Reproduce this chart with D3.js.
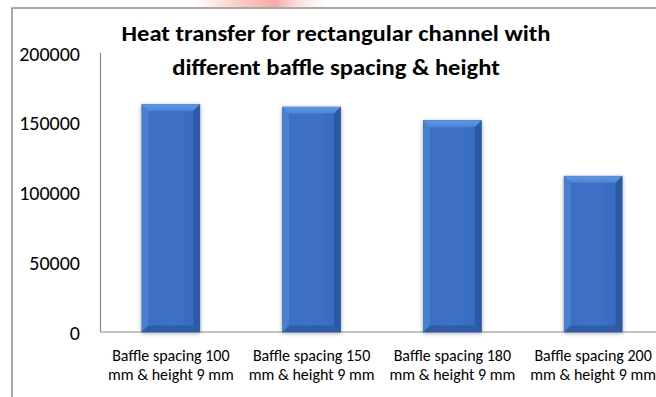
<!DOCTYPE html>
<html>
<head>
<meta charset="utf-8">
<script src="https://cdn.jsdelivr.net/npm/d3@7"></script>
<style>
  html, body { margin: 0; padding: 0; background: #fff; }
  svg { display: block; }
  text { font-family: Carlito, Lato, "Open Sans", sans-serif; fill: #000; }
</style>
</head>
<body>
<svg id="chart" width="656" height="397"></svg>
<script>
// Heat transfer for each baffle configuration
const titleLines = ["Heat transfer for rectangular channel with", "different baffle spacing & height"];
const categories = [
  ["Baffle spacing 100", "mm & height 9 mm"],
  ["Baffle spacing 150", "mm & height 9 mm"],
  ["Baffle spacing 180", "mm & height 9 mm"],
  ["Baffle spacing 200", "mm & height 9 mm"]
];
const heatTransfer = [163000, 161300, 151500, 111700];
const yTicks = [0, 50000, 100000, 150000, 200000];

const svg = d3.select("#chart");
const W = 656, H = 397;

// plot area (extends a little past the right edge of the window)
const plot = { left: 100.5, right: 663.5, top: 53, bottom: 332 };

const x = d3.scaleBand()
  .domain(d3.range(categories.length))
  .range([plot.left, plot.right])
  .paddingInner(0.588)
  .paddingOuter(0.294);

const y = d3.scaleLinear().domain([0, 200000]).range([plot.bottom, plot.top]);

const defs = svg.append("defs");

// soft shadow behind the bars
const shadow = defs.append("filter").attr("id", "barShadow")
  .attr("x", "-30%").attr("y", "-10%").attr("width", "160%").attr("height", "125%");
shadow.append("feGaussianBlur").attr("in", "SourceAlpha").attr("stdDeviation", 2.2).attr("result", "blur");
shadow.append("feOffset").attr("dx", 0).attr("dy", 1).attr("result", "off");
shadow.append("feComponentTransfer").append("feFuncA").attr("type", "linear").attr("slope", 0.35);
const merge = shadow.append("feMerge");
merge.append("feMergeNode");
merge.append("feMergeNode").attr("in", "SourceGraphic");

const faceGrad = defs.append("linearGradient").attr("id", "faceGrad")
  .attr("x1", 0).attr("x2", 1).attr("y1", 0).attr("y2", 0);
faceGrad.append("stop").attr("offset", "0%").attr("stop-color", "#3a6ec2");
faceGrad.append("stop").attr("offset", "50%").attr("stop-color", "#3d72c7");
faceGrad.append("stop").attr("offset", "100%").attr("stop-color", "#356abd");

const topGrad = defs.append("linearGradient").attr("id", "topGrad")
  .attr("x1", 0).attr("x2", 0).attr("y1", 0).attr("y2", 1);
topGrad.append("stop").attr("offset", "0%").attr("stop-color", "#5e98e6");
topGrad.append("stop").attr("offset", "100%").attr("stop-color", "#4c85d9");

// faint mark at the top edge
const markGrad = defs.append("linearGradient").attr("id", "markGrad")
  .attr("x1", 0).attr("x2", 1).attr("y1", 0).attr("y2", 0);
markGrad.append("stop").attr("offset", "0%").attr("stop-color", "#ffd6d2").attr("stop-opacity", 0);
markGrad.append("stop").attr("offset", "25%").attr("stop-color", "#ffd2cc").attr("stop-opacity", 0.9);
markGrad.append("stop").attr("offset", "60%").attr("stop-color", "#f7a39a").attr("stop-opacity", 0.9);
markGrad.append("stop").attr("offset", "100%").attr("stop-color", "#ffe8e6").attr("stop-opacity", 0);
svg.append("path")
  .attr("d", "M195,0 L318,0 L330,7 L195,7 Z")
  .attr("fill", "url(#markGrad)");

// chart frame
svg.append("path")
  .attr("d", `M12,${H} L12,8 L${W},8`)
  .attr("fill", "none").attr("stroke", "#8c8c8c").attr("stroke-width", 1.5);

// axes lines
svg.append("path")
  .attr("d", `M${plot.left},${plot.top} L${plot.left},${plot.bottom} L${W},${plot.bottom}`)
  .attr("fill", "none").attr("stroke", "#8a8a8a").attr("stroke-width", 1.2);

// y tick labels
const yAxis = d3.axisLeft(y).tickValues(yTicks).tickSize(0).tickPadding(0).tickFormat(d3.format("d"));
const yg = svg.append("g").attr("transform", "translate(80,0)").call(yAxis);
yg.select(".domain").remove();
yg.selectAll("text").attr("font-size", 20).attr("fill", "#000")
  .style("font-family", "Carlito, Lato, 'Open Sans', sans-serif")
  .attr("dy", "0.36em");

// bars with bevelled edges
const bev = 6.5;
const bars = svg.append("g").selectAll("g").data(heatTransfer).join("g")
  .attr("filter", "url(#barShadow)");

bars.append("rect")
  .attr("x", (d, i) => x(i))
  .attr("y", d => y(d))
  .attr("width", x.bandwidth())
  .attr("height", d => y(0) - y(d))
  .attr("fill", "url(#faceGrad)")
  .attr("stroke", "#2f5ea8").attr("stroke-width", 0.6);

// top bevel
bars.append("path")
  .attr("d", (d, i) => {
    const x0 = x(i), x1 = x(i) + x.bandwidth(), t = y(d);
    return `M${x0},${t} L${x1},${t} L${x1 - bev},${t + bev} L${x0 + bev},${t + bev} Z`;
  })
  .attr("fill", "url(#topGrad)");
// left bevel
bars.append("path")
  .attr("d", (d, i) => {
    const x0 = x(i), t = y(d), b = y(0);
    return `M${x0},${t} L${x0 + bev},${t + bev} L${x0 + bev},${b - bev} L${x0},${b} Z`;
  })
  .attr("fill", "#4a80d2");
// right bevel
bars.append("path")
  .attr("d", (d, i) => {
    const x1 = x(i) + x.bandwidth(), t = y(d), b = y(0);
    return `M${x1},${t} L${x1 - bev},${t + bev} L${x1 - bev},${b - bev} L${x1},${b} Z`;
  })
  .attr("fill", "#2c5aa3");
// bottom bevel
bars.append("path")
  .attr("d", (d, i) => {
    const x0 = x(i), x1 = x(i) + x.bandwidth(), b = y(0);
    return `M${x0},${b} L${x0 + bev},${b - bev} L${x1 - bev},${b - bev} L${x1},${b} Z`;
  })
  .attr("fill", "#2d5ca6");

// category labels
const xl = svg.append("g").selectAll("text").data(categories).join("text")
  .attr("x", (d, i) => x(i) + x.bandwidth() / 2)
  .attr("y", 361)
  .attr("text-anchor", "middle")
  .attr("font-size", 16);
xl.selectAll("tspan").data(d => d).join("tspan")
  .attr("x", function () { return this.parentNode.getAttribute("x"); })
  .attr("dy", (d, j) => j === 0 ? 0 : 19)
  .text(d => d);

// title
svg.append("g").selectAll("text").data(titleLines).join("text")
  .attr("x", 336)
  .attr("y", (d, i) => 41 + i * 34)
  .attr("text-anchor", "middle")
  .attr("font-size", 23)
  .attr("font-weight", "bold")
  .attr("lengthAdjust", "spacingAndGlyphs")
  .text(d => d)
  .each(function () { d3.select(this).attr("textLength", this.getComputedTextLength() * 1.07); });
</script>
</body>
</html>
